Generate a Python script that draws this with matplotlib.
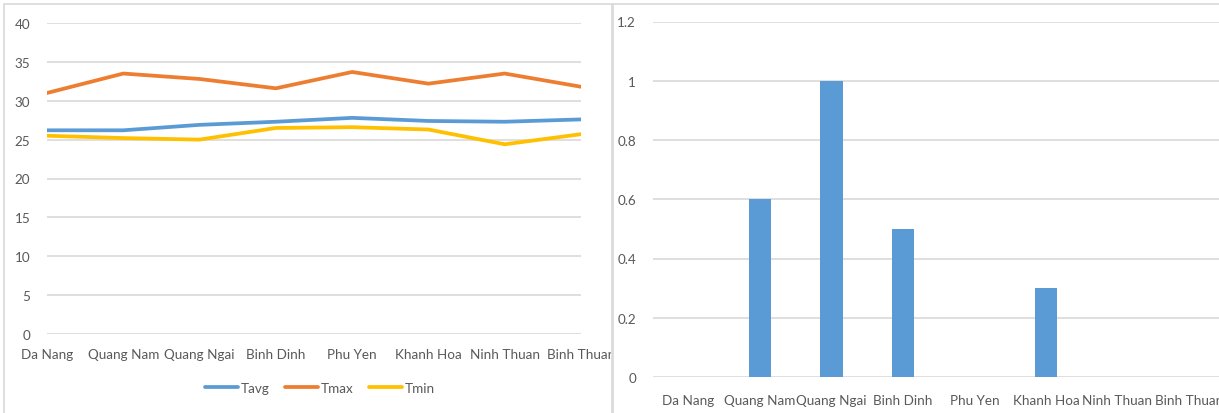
import matplotlib

matplotlib.use("Agg")
import matplotlib.pyplot as plt
from matplotlib.patches import Rectangle

provinces = ["Da Nang", "Quang Nam", "Quang Ngai", "Binh Dinh",
             "Phu Yen", "Khanh Hoa", "Ninh Thuan", "Binh Thuan"]
tavg = [26.2, 26.2, 26.9, 27.3, 27.8, 27.4, 27.3, 27.6]
tmax = [31.0, 33.5, 32.8, 31.6, 33.7, 32.2, 33.5, 31.8]
tmin = [25.5, 25.2, 25.0, 26.5, 26.6, 26.3, 24.4, 25.7]
ratio = [0, 0.6, 1.0, 0.5, 0, 0.3, 0, 0]

W, H = 1219, 414
TEXT = "#595959"
GRID = "#D9D9D9"
plt.rcParams["font.family"] = ["Lato", "DejaVu Sans"]
plt.rcParams["font.size"] = 9.7

fig = plt.figure(figsize=(W / 100, H / 100), dpi=100)


def frac(x0, y_top, x1, y_bottom):
    return [x0 / W, 1 - y_bottom / H, (x1 - x0) / W, (y_bottom - y_top) / H]


def style(ax):
    for side in ax.spines.values():
        side.set_visible(False)
    ax.tick_params(length=0, colors=TEXT, labelsize=9.7)
    ax.grid(axis="y", color=GRID, linewidth=1.2)
    ax.set_axisbelow(True)


# left panel: temperatures
ax1 = fig.add_axes(frac(47, 24, 581, 335))
x = range(len(provinces))
ax1.plot(x, tavg, color="#5B9BD5", linewidth=2.7, label="Tavg", solid_capstyle="round")
ax1.plot(x, tmax, color="#ED7D31", linewidth=2.7, label="Tmax", solid_capstyle="round")
ax1.plot(x, tmin, color="#FFC000", linewidth=2.7, label="Tmin", solid_capstyle="round")
ax1.set_xlim(0, len(provinces) - 1)
ax1.set_ylim(0, 40)
ax1.set_yticks(range(0, 41, 5))
ax1.set_xticks(list(x))
ax1.set_xticklabels(provinces)
ax1.tick_params(axis="x", pad=10)
ax1.tick_params(axis="y", pad=12)
style(ax1)

clip = Rectangle((0, 0), 611 / W, 1, transform=fig.transFigure, visible=False)
fig.add_artist(clip)
for label in ax1.get_xticklabels():
    label.set_clip_path(clip)

fig.legend(loc="center", bbox_to_anchor=(320 / W, 1 - 389 / H), ncol=3, frameon=False,
           handlelength=2.5, handletextpad=0.2, columnspacing=1.1, labelcolor=TEXT)

# right panel: bars
ax2 = fig.add_axes(frac(652.7, 22.5, 652.7 + 8 * 71.5, 378))
ax2.bar(range(len(provinces)), ratio, width=0.31, color="#5B9BD5")
ax2.set_xlim(-0.5, len(provinces) - 0.5)
ax2.set_ylim(0, 1.2)
ax2.set_yticks([0, 0.2, 0.4, 0.6, 0.8, 1, 1.2])
ax2.set_yticklabels(["0", "0.2", "0.4", "0.6", "0.8", "1", "1.2"])
ax2.set_xticks(range(len(provinces)))
ax2.set_xticklabels(provinces)
ax2.tick_params(axis="x", pad=12)
ax2.tick_params(axis="y", pad=12)
style(ax2)

# chart area borders
fig.add_artist(Rectangle((4 / W, -0.1), 608 / W, 1.1 - 5 / H, transform=fig.transFigure,
                         fill=False, edgecolor=GRID, linewidth=1.2))
fig.add_artist(Rectangle((613 / W, -0.1), 620 / W, 1.1 - 5 / H, transform=fig.transFigure,
                         fill=False, edgecolor=GRID, linewidth=1.2))

fig.savefig("out.png", dpi=100)
